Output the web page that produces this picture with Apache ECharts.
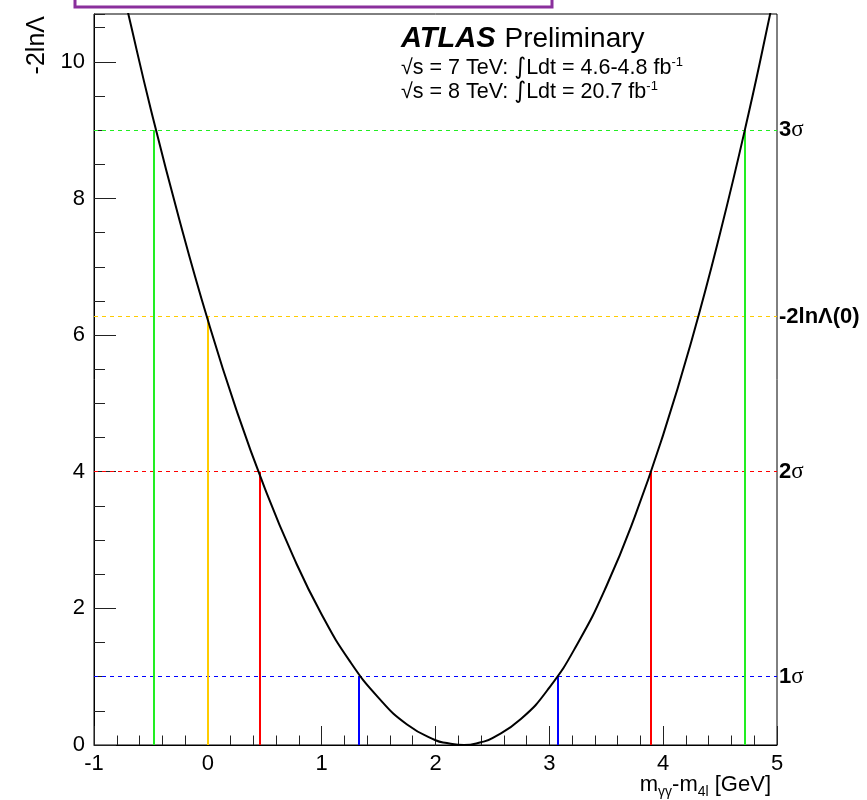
<!DOCTYPE html>
<html><head><meta charset="utf-8">
<script src="https://cdn.jsdelivr.net/npm/echarts@6/dist/echarts.min.js"></script>
<style>html,body{margin:0;padding:0;background:#fff}#c{width:867px;height:800px}</style>
</head><body><div id="c"></div>
<script>
// curve: -2lnΛ vs m_γγ - m_4l
const curveX = [-0.75, -0.7, -0.5, -0.25, 0.0, 0.25, 0.5, 0.75, 1.0, 1.25, 1.5, 1.75, 2.0, 2.1, 2.25, 2.4, 2.5, 2.75, 3.0, 3.25, 3.5, 3.75, 4.0, 4.25, 4.5, 4.75, 4.95, 5.0];
const curveY = [11.07, 10.71, 9.30, 7.69, 6.22, 4.91, 3.76, 2.76, 1.91, 1.22, 0.69, 0.30, 0.07, 0.03, 0.0, 0.04, 0.10, 0.38, 0.84, 1.49, 2.32, 3.34, 4.54, 5.92, 7.49, 9.24, 10.78, 11.18];
// levels
const levelLabels = ['1σ', '2σ', '-2lnΛ(0)', '3σ'];
const levelValues = [1, 4, 6.27, 9];
const levelColors = ['#0000ff', '#ff0000', '#ffcc00', '#22ee22'];
const crossLeft = [1.33, 0.455, 0.0, -0.475];
const crossRight = [3.07, 3.89, null, 4.72];
// axis ticks
const xTickLabels = ['-1', '0', '1', '2', '3', '4', '5'];
const yTickLabels = ['0', '2', '4', '6', '8', '10'];

const FONT = 'Liberation Sans';
const chart = echarts.init(document.getElementById('c'), null, {renderer: 'canvas'});

function levelLabel(i) {
  const t = levelLabels[i];
  if (t.endsWith('σ')) return '{b|' + t.slice(0, -1) + '}{s|σ}';
  return '{b|' + t + '}';
}

const mlData = [];
levelValues.forEach((v, i) => {
  mlData.push([
    {coord: [-1, v], lineStyle: {color: levelColors[i], type: [4, 4], width: 1},
     label: {show: true, position: 'end', distance: 2, formatter: levelLabel(i),
       rich: {b: {fontFamily: FONT, fontWeight: 'bold', fontSize: 22, color: '#000'},
              s: {fontFamily: 'Liberation Serif', fontSize: 23, color: '#000'}}}},
    {coord: [5, v]}
  ]);
  [crossLeft[i], crossRight[i]].forEach(x => {
    if (x === null) return;
    mlData.push([
      {coord: [x, 0], lineStyle: {color: levelColors[i], type: 'solid', width: 2}, label: {show: false}},
      {coord: [x, v]}
    ]);
  });
});

const option = {
  animation: false,
  backgroundColor: '#fff',
  grid: {left: 94, right: 90, top: 14, bottom: 55, show: true, borderColor: '#000', borderWidth: 1, backgroundColor: 'transparent'},
  xAxis: {
    type: 'value', min: -1, max: 5, interval: 1,
    axisLine: {onZero: false, lineStyle: {color: '#000', width: 1}},
    axisTick: {inside: true, length: 19, lineStyle: {color: '#222'}},
    minorTick: {show: true, splitNumber: 5, length: 9.5, lineStyle: {color: '#222'}},
    splitLine: {show: false},
    axisLabel: {fontFamily: FONT, fontSize: 22, color: '#000', margin: 8,
      formatter: v => xTickLabels[Math.round(v) + 1] || ''}
  },
  yAxis: [
    {
      type: 'value', min: 0, max: 10.7, interval: 2,
      axisLine: {show: true, onZero: false, lineStyle: {color: '#000', width: 1}},
      axisTick: {show: true, inside: true, length: 22, lineStyle: {color: '#222'}},
      splitLine: {show: false},
      axisLabel: {fontFamily: FONT, fontSize: 22, color: '#000', margin: 9, showMaxLabel: false,
        formatter: v => { const k = Math.round(v / 2); return (Math.abs(v - 2 * k) < 1e-6 && yTickLabels[k]) ? yTickLabels[k] : ''; }}
    },
    {
      type: 'value', min: 0, max: 10.7, interval: 0.5, position: 'left',
      axisLine: {show: false, onZero: false},
      axisTick: {show: true, inside: true, length: 11, lineStyle: {color: '#222'}},
      splitLine: {show: false},
      axisLabel: {show: false}
    }
  ],
  series: [{
    type: 'line',
    data: curveX.map((x, i) => [x, curveY[i]]),
    smooth: true,
    symbol: 'none',
    clip: true,
    lineStyle: {color: '#000', width: 2},
    z: 5,
    markLine: {silent: true, symbol: 'none', animation: false, data: mlData}
  }],
  graphic: [
    {type: 'rect', shape: {x: 75, y: -20, width: 477, height: 27}, style: {fill: 'none', stroke: '#8a2f9c', lineWidth: 3}},
    {type: 'text', x: 401, y: 39, style: {
      text: '{a|ATLAS}{g| }{p|Preliminary}', verticalAlign: 'middle', align: 'left',
      rich: {a: {fontFamily: FONT, fontWeight: 'bold', fontStyle: 'italic', fontSize: 29, fill: '#000'},
             g: {fontFamily: FONT, fontSize: 29, fill: '#000', width: 9},
             p: {fontFamily: FONT, fontSize: 28, fill: '#000'}}}},
    {type: 'text', x: 401, y: 68, style: {
      text: '{t|√s = 7 TeV: }{i|∫}{t|Ldt = 4.6-4.8 fb}{u|-1}', verticalAlign: 'middle', align: 'left',
      rich: {t: {fontFamily: FONT, fontSize: 21.5, fill: '#000', lineHeight: 24},
             i: {fontFamily: 'DejaVu Sans', fontSize: 23, fill: '#000', lineHeight: 24},
             u: {fontFamily: FONT, fontSize: 13, fill: '#000', verticalAlign: 'top', lineHeight: 24}}}},
    {type: 'text', x: 401, y: 92, style: {
      text: '{t|√s = 8 TeV: }{i|∫}{t|Ldt = 20.7 fb}{u|-1}', verticalAlign: 'middle', align: 'left',
      rich: {t: {fontFamily: FONT, fontSize: 21.5, fill: '#000', lineHeight: 24},
             i: {fontFamily: 'DejaVu Sans', fontSize: 23, fill: '#000', lineHeight: 24},
             u: {fontFamily: FONT, fontSize: 13, fill: '#000', verticalAlign: 'top', lineHeight: 24}}}},
    {type: 'text', x: 37, y: 16, rotation: Math.PI / 2, style: {
      text: '-2lnΛ', align: 'right', verticalAlign: 'middle', fontFamily: FONT, fontSize: 25, fill: '#000'}},
    {type: 'text', x: 771, y: 785, style: {
      text: '{t|m}{s|γγ}{t|-m}{s|4l}{t| [GeV]}', align: 'right', verticalAlign: 'middle',
      rich: {t: {fontFamily: FONT, fontSize: 22, fill: '#000', lineHeight: 28},
             s: {fontFamily: FONT, fontSize: 14, fill: '#000', verticalAlign: 'bottom', lineHeight: 28}}}}
  ]
};
chart.setOption(option);
</script>
</body></html>
